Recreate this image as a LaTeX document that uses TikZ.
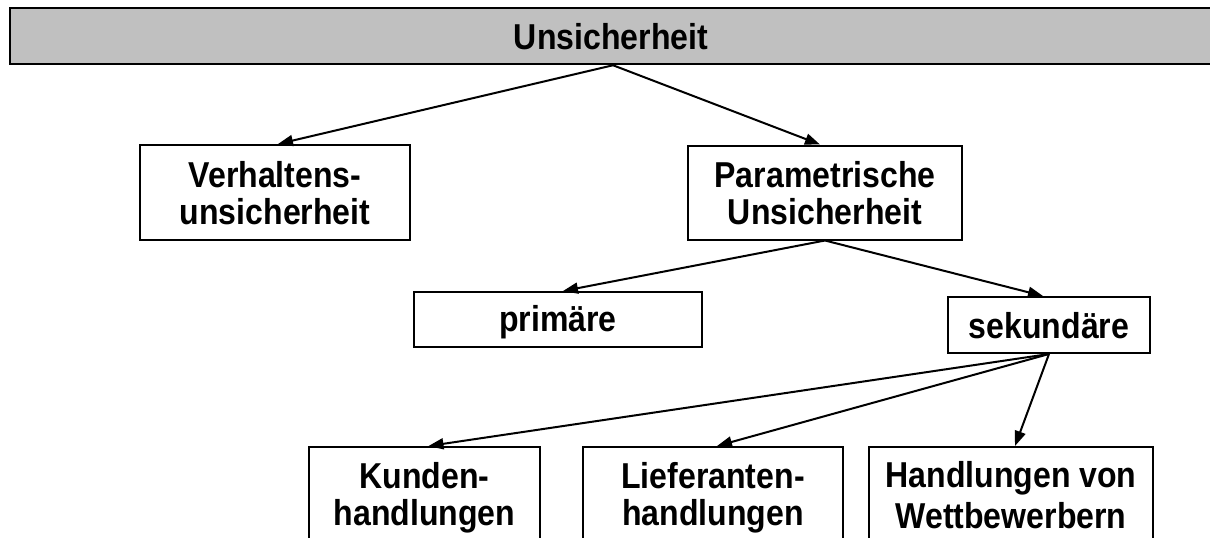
\documentclass[tikz,border=0pt]{standalone}
\usepackage{fontspec}
\setmainfont[FakeStretch=0.89]{Liberation Sans}
\usetikzlibrary{arrows.meta}
\newcommand\ms{\rule[-5pt]{0pt}{37pt}}
\tikzset{
  box/.style={draw=black, line width=2pt, inner sep=0pt, align=center,
    font=\fontsize{36}{37}\selectfont\bfseries},
  arr/.style={line width=2pt, -{Triangle[length=15pt,width=11pt]}},
}
\begin{document}
\begin{tikzpicture}[x=1pt,y=-1pt]
\useasboundingbox (0,0) rectangle (1210,538);
\node[box, fill={rgb,255:red,192;green,192;blue,192}, line width=2.5pt,
  minimum width=1202pt, minimum height=56pt] (top) at (611,36) {\ms Unsicherheit};
\node[box, minimum width=270pt, minimum height=95pt] (verh) at (275,192.5) {\ms Verhaltens-\\\ms unsicherheit};
\node[box, minimum width=274pt, minimum height=94pt] (param) at (825,192.5) {\ms Parametrische\\\ms Unsicherheit};
\node[box, minimum width=288pt, minimum height=55pt] (prim) at (558,319.5) {\ms primäre};
\node[box, minimum width=202pt, minimum height=56pt] (sek) at (1049,325) {\ms sekundäre};
\node[box, minimum width=231pt, minimum height=95pt] (kund) at (424.5,494.5) {\ms Kunden-\\\ms handlungen};
\node[box, minimum width=260pt, minimum height=95pt] (lief) at (713,494.5) {\ms Lieferanten-\\\ms handlungen};
\node[box, minimum width=284pt, minimum height=95pt] (hand) at (1011,494.5) {\ms Handlungen von\\\ms Wettbewerbern};
\coordinate (apex) at ([xshift=2pt]top.south);
\draw[arr] (apex) -- ([xshift=3pt]verh.north);
\draw[arr] (apex) -- ([xshift=-5pt]param.north);
\draw[arr] (param.south) -- ([xshift=5pt]prim.north);
\draw[arr] (param.south) -- ([xshift=-6pt]sek.north);
\draw[arr] (sek.south) -- ([xshift=4pt]kund.north);
\draw[arr] (sek.south) -- ([xshift=4pt]lief.north);
\draw[arr] (sek.south) -- ([xshift=4pt]hand.north);
\end{tikzpicture}
\end{document}
